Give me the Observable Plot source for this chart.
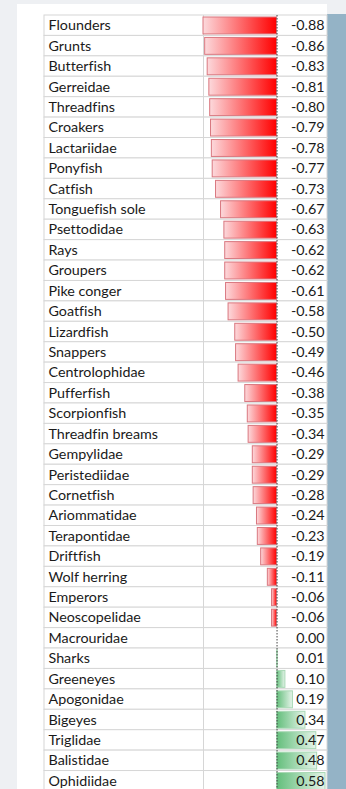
<!DOCTYPE html>
<html>
<head>
<meta charset="utf-8">
<script src="https://cdn.jsdelivr.net/npm/d3@7"></script>
<script src="https://cdn.jsdelivr.net/npm/@observablehq/plot@0.6"></script>
<style>
  html, body { margin: 0; padding: 0; width: 346px; height: 789px; overflow: hidden; background: #eef0f3; }
  #sheet { position: absolute; left: 17px; top: 4px; width: 310px; height: 785px; background: #ffffff; }
  #strip { position: absolute; left: 327px; top: 14px; width: 19px; height: 775px; background: #94b3c6; }
  #chart { position: absolute; left: 0; top: 0; }
  #chart svg text { font-variant-ligatures: none; font-feature-settings: "liga" 0; }
</style>
</head>
<body>
<div id="sheet"></div>
<div id="strip"></div>
<div id="chart"></div>
<script>
const names = ["Flounders","Grunts","Butterfish","Gerreidae","Threadfins","Croakers","Lactariidae","Ponyfish","Catfish","Tonguefish sole","Psettodidae","Rays","Groupers","Pike conger","Goatfish","Lizardfish","Snappers","Centrolophidae","Pufferfish","Scorpionfish","Threadfin breams","Gempylidae","Peristediidae","Cornetfish","Ariommatidae","Terapontidae","Driftfish","Wolf herring","Emperors","Neoscopelidae","Macrouridae","Sharks","Greeneyes","Apogonidae","Bigeyes","Triglidae","Balistidae","Ophidiidae"];
const values = [-0.88,-0.86,-0.83,-0.81,-0.80,-0.79,-0.78,-0.77,-0.73,-0.67,-0.63,-0.62,-0.62,-0.61,-0.58,-0.50,-0.49,-0.46,-0.38,-0.35,-0.34,-0.29,-0.29,-0.28,-0.24,-0.23,-0.19,-0.11,-0.06,-0.06,0.00,0.01,0.10,0.19,0.34,0.47,0.48,0.58];

const rows = names.map((name, i) => ({name, value: values[i]}));
const rowH = 20.42;
const tableTop = 15;
const font = "Lato, 'Open Sans', sans-serif";

const defs = () => {
  const d = d3.create("svg:defs");
  const neg = d.append("linearGradient").attr("id", "negGrad").attr("x1", "0").attr("x2", "1").attr("y1", "0").attr("y2", "0");
  neg.append("stop").attr("offset", "0%").attr("stop-color", "#fcd9dc");
  neg.append("stop").attr("offset", "100%").attr("stop-color", "#ff0000");
  const pos = d.append("linearGradient").attr("id", "posGrad").attr("x1", "0").attr("x2", "1").attr("y1", "0").attr("y2", "0");
  pos.append("stop").attr("offset", "0%").attr("stop-color", "#63be7b");
  pos.append("stop").attr("offset", "100%").attr("stop-color", "#e6f4ea");
  return d.node();
};

const chart = Plot.plot({
  width: 346,
  height: 789,
  marginTop: tableTop,
  marginBottom: 0,
  marginLeft: 44,
  marginRight: 19,
  style: {overflow: "hidden", background: "transparent", fontFamily: font},
  x: {domain: [d3.min(values), d3.max(values)], range: [203, 325], axis: null},
  y: {domain: names, range: [tableTop, tableTop + names.length * rowH], padding: 0, round: false, axis: null},
  marks: [
    defs,
    Plot.cell(rows, {y: "name", fill: "white", stroke: "#d6d6d6", strokeWidth: 1}),
    Plot.ruleX([d3.min(values)], {stroke: "#d6d6d6", strokeWidth: 1}),
    Plot.barX(rows.filter(d => d.value < 0), {x1: 0, x2: "value", y: "name", fill: "url(#negGrad)", stroke: "#d9777f", strokeWidth: 1, insetTop: 2, insetBottom: 1.5}),
    Plot.barX(rows.filter(d => d.value > 0), {x1: 0, x2: "value", y: "name", fill: "url(#posGrad)", stroke: "#a8d8b5", strokeWidth: 1, insetTop: 2, insetBottom: 1.5}),
    Plot.ruleX([0], {stroke: "#444", strokeWidth: 1, strokeDasharray: "1.5,1.5"}),
    Plot.text(rows, {y: "name", text: "name", frameAnchor: "left", dx: 4, textAnchor: "start", fill: "#1a1a1a", fontSize: 14.3}),
    Plot.text(rows, {y: "name", text: d => d.value.toFixed(2), frameAnchor: "right", dx: -3, textAnchor: "end", fill: "#1a1a1a", fontSize: 14.3})
  ]
});
document.getElementById("chart").appendChild(chart);
</script>
</body>
</html>
